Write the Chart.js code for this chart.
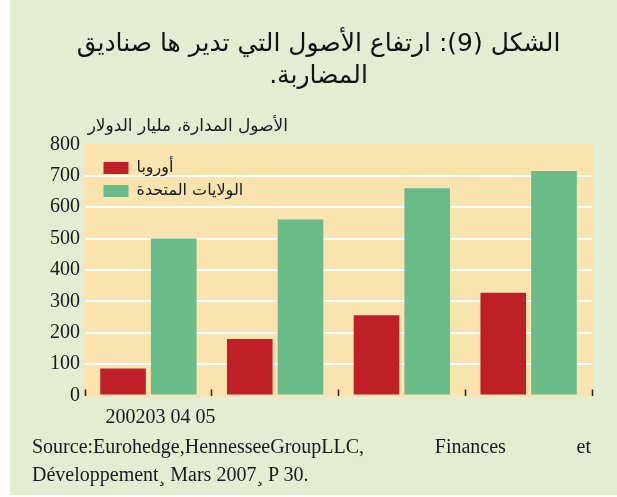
<!DOCTYPE html>
<html>
<head>
<meta charset="utf-8">
<script src="https://cdn.jsdelivr.net/npm/chart.js@4.4.1/dist/chart.umd.min.js"></script>
<style>
html,body{margin:0;padding:0;background:#ffffff;}
#wrap{position:relative;width:617px;height:497px;overflow:hidden;}
#panel{position:absolute;left:10px;top:0;width:607px;height:495px;background:#E2EDD4;}
#c{position:absolute;left:0;top:0;}
.src{position:absolute;left:32px;width:559px;font-family:'Liberation Serif',serif;font-size:20px;line-height:28px;color:#1a1a1a;white-space:nowrap;}
#s1{top:432px;text-align:justify;text-align-last:justify;white-space:normal;}
#s2{top:460px;}
</style>
</head>
<body>
<div id="wrap">
  <div id="panel"></div>
  <canvas id="c" width="617" height="497"></canvas>
  <div class="src" id="s1"></div>
  <div class="src" id="s2"></div>
</div>
<script>
// ---- data ----
const categories = ['2002', '2003', '2004', '2005'];
const europe = [86, 180, 256, 327];
const usa = [500, 561, 660, 715];
const seriesNames = ['أوروبا', 'الولايات المتحدة'];
const yMin = 0, yMax = 800, yStep = 100;
const titleLines = ['الشكل (9): ارتفاع الأصول التي تدير ها صناديق', 'المضاربة.'];
const unitLabel = 'الأصول المدارة، مليار الدولار';
const sourceLine1 = 'Source:Eurohedge,HennesseeGroupLLC, Finances et';
const sourceLine2 = 'Développement¸ Mars 2007¸ P 30.';

// x label as printed in the source: "2002" followed by the short years
const xLabel = categories[0] + categories.slice(1).map(c => c.slice(2)).join(' ');

document.getElementById('s1').textContent = sourceLine1;
document.getElementById('s2').textContent = sourceLine2;

const rtl = s => '\u202B' + s + '\u202C';
const serif = "'Liberation Serif', 'Times New Roman', serif";
const arab = "'DejaVu Sans', sans-serif";
const textColor = '#1a1a1a';

const decor = {
  id: 'decor',
  beforeDraw(chart) {
    const {ctx, chartArea: a} = chart;
    ctx.save();
    ctx.fillStyle = '#F9E4B0';
    ctx.fillRect(a.left - 1.7, a.top - 0.4, a.right - a.left + 3.4, a.bottom - a.top + 1.7);
    ctx.restore();
    const lg = chart.legend;
    if (lg) {
      lg.left = a.left + 11.5;
      lg.top = a.top + 8.6;
      lg.width = 175;
      lg.height = 60;
      lg.right = lg.left + lg.width;
      lg.bottom = lg.top + lg.height;
    }
  },
  afterDraw(chart) {
    const ctx = chart.ctx;
    ctx.save();
    ctx.font = "17px 'DejaVu Sans'";
    ctx.fillStyle = textColor;
    ctx.direction = 'rtl';
    ctx.textAlign = 'right';
    ctx.textBaseline = 'alphabetic';
    ctx.fillText(unitLabel, 288, 131);
    ctx.restore();
  }
};

new Chart(document.getElementById('c'), {
  type: 'bar',
  data: {
    labels: categories,
    datasets: [
      { label: seriesNames[0], data: europe, backgroundColor: '#BF1F27', borderWidth: 0 },
      { label: seriesNames[1], data: usa, backgroundColor: '#69BB89', borderWidth: 0 }
    ]
  },
  options: {
    responsive: false,
    animation: false,
    events: [],
    layout: { padding: { left: 45, right: 25, top: 0, bottom: 50.5 } },
    plugins: {
      title: {
        display: true,
        text: titleLines.map(rtl),
        color: '#111111',
        font: { family: arab, size: 25, weight: 'normal', lineHeight: '32px' },
        padding: { top: 28, bottom: 51.4 }
      },
      legend: {
        display: true,
        position: 'top',
        align: 'start',
        maxHeight: 1,
        labels: {
          boxWidth: 25,
          boxHeight: 12,
          padding: 7,
          color: textColor,
          font: { family: arab, size: 16 }
        }
      },
      tooltip: { enabled: false }
    },
    scales: {
      x: {
        grid: {
          display: true,
          drawOnChartArea: false,
          drawTicks: true,
          tickLength: -6,
          tickWidth: 1.5,
          tickColor: '#222222',
          offset: true
        },
        border: { display: false },
        ticks: {
          autoSkip: false,
          maxRotation: 0,
          minRotation: 0,
          padding: 16.5,
          labelOffset: 12,
          color: textColor,
          font: { family: serif, size: 20 },
          callback: (v, i) => (i === 0 ? xLabel : '')
        }
      },
      y: {
        min: yMin,
        max: yMax,
        border: { display: false },
        grid: {
          drawTicks: false,
          lineWidth: 2,
          color: c => (c.tick && (c.tick.value === yMin || c.tick.value === yMax)) ? 'rgba(0,0,0,0)' : '#ffffff'
        },
        ticks: {
          stepSize: yStep,
          padding: 5,
          color: textColor,
          font: { family: serif, size: 20 }
        }
      }
    }
  },
  plugins: [decor]
});
</script>
</body>
</html>
